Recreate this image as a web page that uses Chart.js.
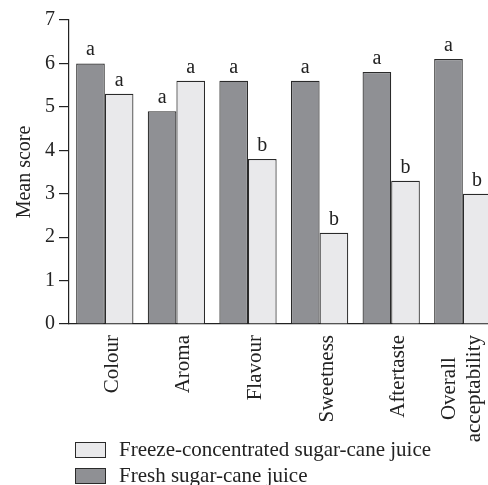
<!DOCTYPE html>
<html>
<head>
<meta charset="utf-8">
<script src="https://cdn.jsdelivr.net/npm/chart.js@4/dist/chart.umd.min.js"></script>
<style>
html,body{margin:0;padding:0;overflow:hidden;background:#fff;}
#wrap{width:488px;height:485px;overflow:hidden;position:relative;}
#c{position:absolute;left:0;top:0;}
</style>
</head>
<body>
<div id="wrap"><canvas id="c" width="500" height="485"></canvas></div>
<script>
const categories = ['Colour', 'Aroma', 'Flavour', 'Sweetness', 'Aftertaste', ['Overall', 'acceptability']];
const freshValues = [6.0, 4.9, 5.6, 5.6, 5.8, 6.1];
const freezeValues = [5.3, 5.6, 3.8, 2.1, 3.3, 3.0];
const freshLetters = ['a', 'a', 'a', 'a', 'a', 'a'];
const freezeLetters = ['a', 'a', 'b', 'b', 'b', 'b'];
const yTicks = [0, 1, 2, 3, 4, 5, 6, 7];
const legendOrder = ['Freeze-concentrated sugar-cane juice', 'Fresh sugar-cane juice'];

const FONT = "'Liberation Serif', 'Times New Roman', serif";
const INK = '#222';

const letterPlugin = {
  id: 'letters',
  afterDatasetsDraw(chart) {
    const ctx = chart.ctx;
    ctx.save();
    ctx.font = '20px ' + FONT;
    ctx.fillStyle = INK;
    ctx.textAlign = 'center';
    ctx.textBaseline = 'alphabetic';
    const sets = [freshLetters, freezeLetters];
    chart.data.datasets.forEach((ds, di) => {
      const meta = chart.getDatasetMeta(di);
      meta.data.forEach((bar, i) => {
        ctx.fillText(sets[di][i], bar.x, bar.y - 8);
      });
    });
    ctx.restore();
  }
};

// vertical category labels, drawn at the x scale's tick positions
const xLabelPlugin = {
  id: 'xLabels',
  afterDraw(chart) {
    const ctx = chart.ctx;
    const xs = chart.scales.x;
    ctx.save();
    ctx.font = '21px ' + FONT;
    ctx.fillStyle = INK;
    ctx.textBaseline = 'alphabetic';
    ctx.textAlign = 'center';
    const top = chart.chartArea.bottom + 11;
    chart.data.labels.forEach((lab, i) => {
      const lines = Array.isArray(lab) ? lab : [lab];
      const L = Math.max(...lines.map(s => ctx.measureText(s).width));
      const cx = xs.getPixelForTick(i);
      const first = 13 - (lines.length - 1) * 21;
      ctx.save();
      ctx.translate(cx, top);
      ctx.rotate(-Math.PI / 2);
      lines.forEach((s, k) => {
        ctx.fillText(s, -L / 2, first + k * 25);
      });
      ctx.restore();
    });
    ctx.restore();
  }
};

const legendPlugin = {
  id: 'stackLegend',
  afterDraw(chart) {
    const ctx = chart.ctx;
    ctx.save();
    ctx.font = '21px ' + FONT;
    ctx.textBaseline = 'middle';
    ctx.textAlign = 'left';
    const order = [1, 0];
    order.forEach((di, row) => {
      const ds = chart.data.datasets[di];
      const y = 442 + row * 26;
      ctx.fillStyle = ds.backgroundColor;
      ctx.fillRect(75, y, 30, 15);
      ctx.strokeStyle = ds.borderColor;
      ctx.lineWidth = 1;
      ctx.strokeRect(75.5, y + 0.5, 30, 15);
      ctx.fillStyle = INK;
      ctx.fillText(ds.label, 119, y + 8);
    });
    ctx.restore();
  }
};

new Chart(document.getElementById('c'), {
  type: 'bar',
  data: {
    labels: categories,
    datasets: [
      { label: legendOrder[1], data: freshValues, backgroundColor: '#8f9094', borderColor: '#2a2a2a', borderWidth: 1.2 },
      { label: legendOrder[0], data: freezeValues, backgroundColor: '#e9e9eb', borderColor: '#2a2a2a', borderWidth: 1.2 }
    ]
  },
  options: {
    responsive: false,
    animation: false,
    devicePixelRatio: 1,
    layout: { padding: { top: 20, right: 1.4, bottom: 0, left: 0 } },
    plugins: { legend: { display: false }, tooltip: { enabled: false } },
    datasets: { bar: { categoryPercentage: 0.8, barPercentage: 1.0, borderSkipped: 'bottom' } },
    scales: {
      x: {
        grid: { display: false },
        border: { display: true, color: INK, width: 1.2 },
        ticks: { display: false },
        afterFit(scale) { scale.height = 161; scale.paddingLeft = 0; scale.paddingRight = 0; }
      },
      y: {
        min: 0, max: 7,
        afterBuildTicks(scale) { scale.ticks = yTicks.map(v => ({ value: v })); },
        grid: { drawOnChartArea: false, drawTicks: true, tickLength: 10, color: INK, lineWidth: 1.2 },
        border: { display: true, color: INK, width: 1.2 },
        ticks: { color: INK, font: { family: FONT, size: 20 }, padding: 4 },
        title: { display: true, text: 'Mean score', color: INK, font: { family: FONT, size: 20 }, padding: { top: 13, bottom: 0 } },
        afterFit(scale) { scale.width = 69; }
      }
    }
  },
  plugins: [letterPlugin, xLabelPlugin, legendPlugin]
});
</script>
</body>
</html>
